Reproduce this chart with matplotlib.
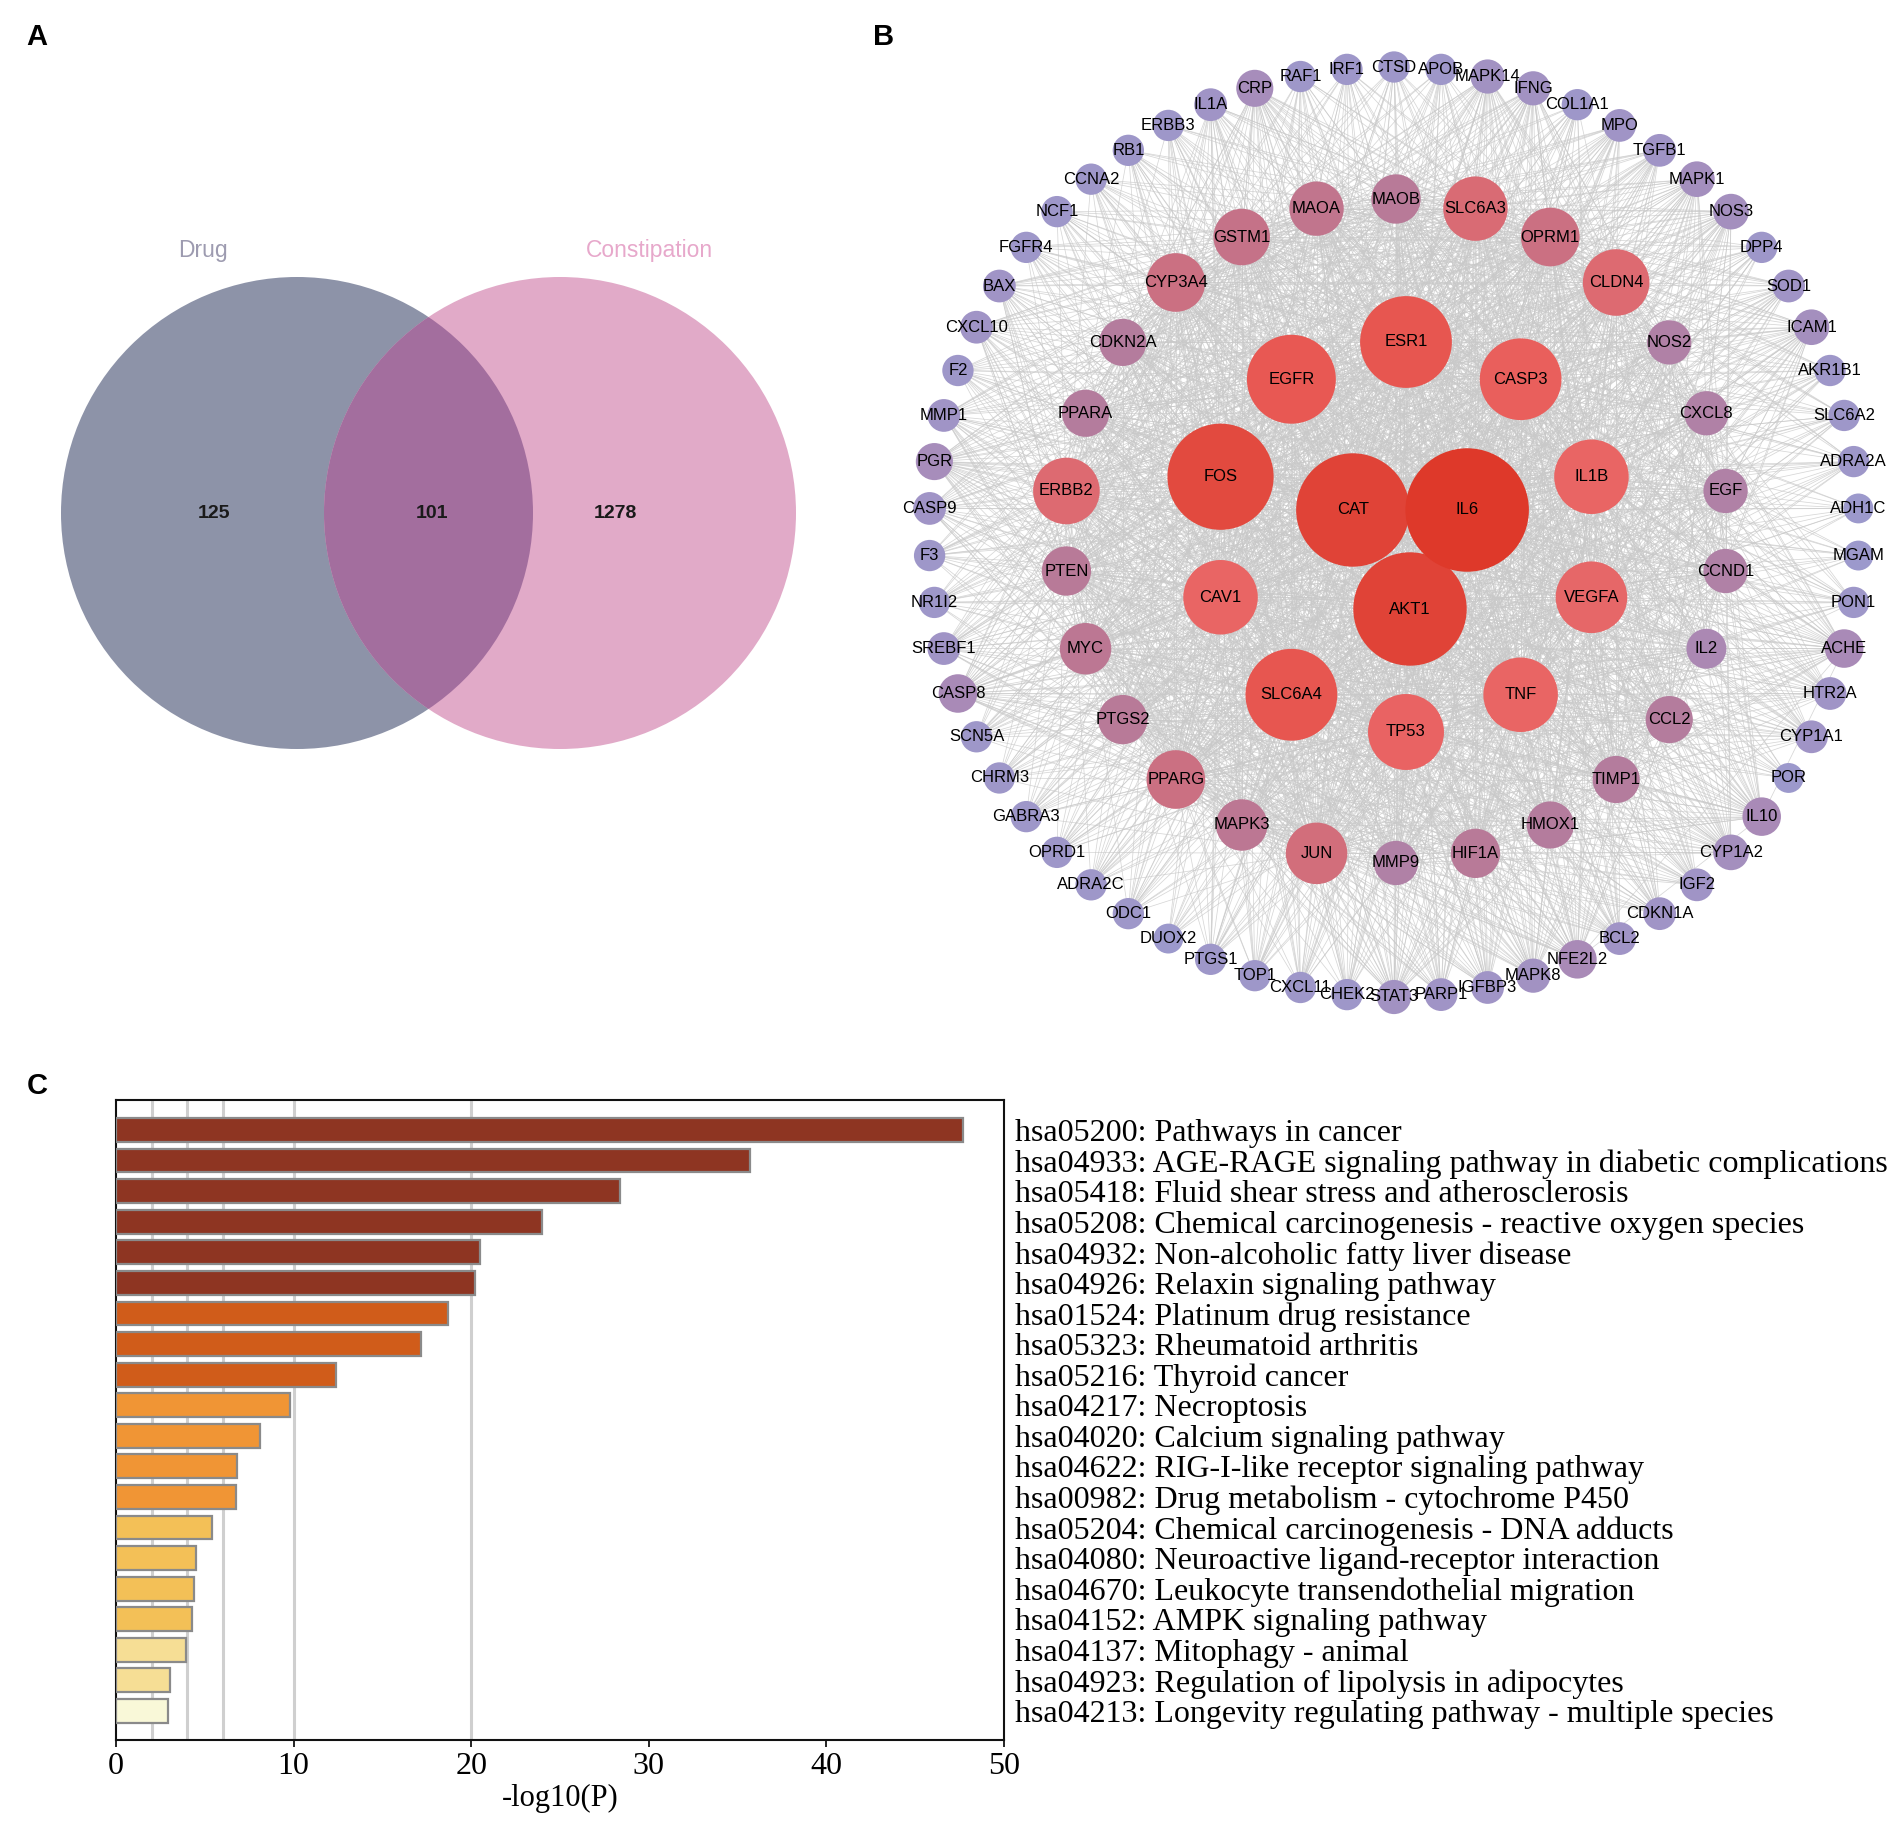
import numpy as np
import matplotlib
matplotlib.use("Agg")
import matplotlib.pyplot as plt
from matplotlib.patches import Circle
from matplotlib.collections import LineCollection
from matplotlib.colors import LinearSegmentedColormap
from matplotlib import font_manager

# ---------------- DATA ----------------
# Panel A: Venn
venn_sets = ["Drug", "Constipation"]
venn_counts = [125, 101, 1278]   # drug only, shared, constipation only

# Panel B: PPI network (rings, clockwise from layout start), estimated degree
core_genes = ["IL6", "AKT1", "CAT"]
core_deg = [67, 60, 60]

inner_genes = ["ESR1", "CASP3", "IL1B", "VEGFA", "TNF", "TP53", "SLC6A4", "CAV1", "FOS", "EGFR"]
inner_deg = [45, 38, 33, 31, 33, 34, 45, 33, 55, 43]

middle_genes = ["MAOB", "SLC6A3", "OPRM1", "CLDN4", "NOS2", "CXCL8", "EGF", "CCND1", "IL2",
                "CCL2", "TIMP1", "HMOX1", "HIF1A", "MMP9", "JUN", "MAPK3", "PPARG", "PTGS2",
                "MYC", "PTEN", "ERBB2", "PPARA", "CDKN2A", "CYP3A4", "GSTM1", "MAOA"]
middle_deg = [15.5, 26, 22, 27.5, 12, 12, 12, 12, 9, 14, 14, 14, 15.5, 12, 24, 17, 22, 15.5,
              17, 15.5, 27.5, 14, 14, 22, 20.5, 19]

outer_genes = ["CTSD", "APOB", "MAPK14", "IFNG", "COL1A1", "MPO", "TGFB1", "MAPK1", "NOS3",
               "DPP4", "SOD1", "ICAM1", "AKR1B1", "SLC6A2", "ADRA2A", "ADH1C", "MGAM", "PON1",
               "ACHE", "HTR2A", "CYP1A1", "POR", "IL10", "CYP1A2", "IGF2", "CDKN1A", "BCL2",
               "NFE2L2", "MAPK8", "IGFBP3", "PARP1", "STAT3", "CHEK2", "CXCL11", "TOP1", "PTGS1",
               "DUOX2", "ODC1", "ADRA2C", "OPRD1", "GABRA3", "CHRM3", "SCN5A", "CASP8", "SREBF1",
               "NR1I2", "F3", "CASP9", "PGR", "MMP1", "F2", "CXCL10", "BAX", "FGFR4", "NCF1",
               "CCNA2", "RB1", "ERBB3", "IL1A", "CRP", "RAF1", "IRF1"]
outer_deg = [3, 3, 5, 5, 3, 4, 4, 6, 6, 3, 4, 6, 3, 3, 3, 2, 2, 3, 8, 4, 4, 2, 8, 6, 4, 4, 4,
             8, 5, 4, 4, 5, 3, 3, 3, 3, 2, 3, 3, 3, 3, 3, 3, 8, 4, 3, 3, 4, 7, 4, 3, 4, 4, 3, 3,
             3, 3, 3, 4, 7, 3, 3]

# Panel C: KEGG enrichment
kegg_terms = ["hsa05200: Pathways in cancer",
              "hsa04933: AGE-RAGE signaling pathway in diabetic complications",
              "hsa05418: Fluid shear stress and atherosclerosis",
              "hsa05208: Chemical carcinogenesis - reactive oxygen species",
              "hsa04932: Non-alcoholic fatty liver disease",
              "hsa04926: Relaxin signaling pathway",
              "hsa01524: Platinum drug resistance",
              "hsa05323: Rheumatoid arthritis",
              "hsa05216: Thyroid cancer",
              "hsa04217: Necroptosis",
              "hsa04020: Calcium signaling pathway",
              "hsa04622: RIG-I-like receptor signaling pathway",
              "hsa00982: Drug metabolism - cytochrome P450",
              "hsa05204: Chemical carcinogenesis - DNA adducts",
              "hsa04080: Neuroactive ligand-receptor interaction",
              "hsa04670: Leukocyte transendothelial migration",
              "hsa04152: AMPK signaling pathway",
              "hsa04137: Mitophagy - animal",
              "hsa04923: Regulation of lipolysis in adipocytes",
              "hsa04213: Longevity regulating pathway - multiple species"]
kegg_logp = [47.7, 35.7, 28.4, 24.0, 20.5, 20.2, 18.7, 17.2, 12.4, 9.8, 8.1, 6.8, 6.75,
             5.4, 4.5, 4.4, 4.3, 3.95, 3.05, 2.9]
grid_lines = [2, 4, 6, 10, 20]
color_bins = [3, 4, 6, 10, 20]
x_ticks = [0, 10, 20, 30, 40, 50]

# ---------------- STYLE ----------------
W, H = 1904, 1829
fig = plt.figure(figsize=(W / 100, H / 100), dpi=100)
fig.patch.set_facecolor("white")

names = {f.name for f in font_manager.fontManager.ttflist}
sans = "Liberation Sans" if "Liberation Sans" in names else "DejaVu Sans"
narrow = "Liberation Sans Narrow" if "Liberation Sans Narrow" in names else sans
serif = "Liberation Serif" if "Liberation Serif" in names else "DejaVu Serif"
label_size = 13 if narrow != sans else 12


def px_axes(x0, y0, x1, y1):
    return fig.add_axes([x0 / W, 1 - y1 / H, (x1 - x0) / W, (y1 - y0) / H])


# panel letters
for letter, (lx, ly) in zip("ABC", [(37, 37), (884, 37), (37, 1086)]):
    fig.text(lx / W, 1 - ly / H, letter, fontsize=21, fontweight="bold",
             family=sans, ha="center", va="center")

# ---------------- Panel A: Venn ----------------
axA = px_axes(0, 40, 880, 1030)
axA.set_xlim(0, 880)
axA.set_ylim(1030, 40)
axA.axis("off")
cL, cR, rV = (297, 513), (560, 513), 236
left = Circle(cL, rV, facecolor="#8D93A8", edgecolor="none", zorder=1)
right = Circle(cR, rV, facecolor="#E1AAC8", edgecolor="none", zorder=1)
axA.add_patch(left)
axA.add_patch(right)
overlap = Circle(cL, rV, facecolor="#A36E9E", edgecolor="none", zorder=2)
axA.add_patch(overlap)
clipc = Circle(cR, rV, transform=axA.transData, facecolor="none", edgecolor="none")
axA.add_patch(clipc)
overlap.set_clip_path(clipc)
axA.text(203, 250, venn_sets[0], color="#9D9BB0", fontsize=16.5, family=sans,
         ha="center", va="center")
axA.text(649, 250, venn_sets[1], color="#E7A8CB", fontsize=16.5, family=sans,
         ha="center", va="center")
for xx, cnt in zip([214, 432, 615], venn_counts):
    axA.text(xx, 513, str(cnt), fontsize=14, fontweight="bold", family=sans,
             color="#1a1a1a", ha="center", va="center", zorder=5)

# ---------------- Panel B: Network ----------------
axB = px_axes(880, 30, 1904, 1030)
axB.set_xlim(880, 1904)
axB.set_ylim(1030, 30)
axB.axis("off")

cmap = LinearSegmentedColormap.from_list("deg", [
    (0.0, "#9C99CC"), (6 / 66, "#A98AB7"), (12 / 66, "#B47C9D"), (18 / 66, "#C47389"),
    (24 / 66, "#D96B74"), (30 / 66, "#E96666"), (42 / 66, "#E85752"), (53 / 66, "#E24A3F"),
    (1.0, "#DE3829")])

rings = [
    (outer_genes, outer_deg, (1394, 532), 465, 90),
    (middle_genes, middle_deg, (1396, 531), 332, 90),
    (inner_genes, inner_deg, (1406, 537), 195, 90),
    (core_genes, core_deg, (1410, 543), 66, 30),
]
nodes = []
for genes, degs, (cx, cy), rr, start in rings:
    n = len(genes)
    for k, (g, d) in enumerate(zip(genes, degs)):
        ang = np.deg2rad(start - 360.0 * k / n)
        nodes.append((g, d, cx + rr * np.cos(ang), cy - rr * np.sin(ang)))

# edges: hub-weighted connections
segs = []
for i in range(len(nodes)):
    for j in range(i + 1, len(nodes)):
        if nodes[i][1] * nodes[j][1] >= 60:
            segs.append([(nodes[i][2], nodes[i][3]), (nodes[j][2], nodes[j][3])])
axB.add_collection(LineCollection(segs, colors="#C9C9C9", linewidths=0.55, alpha=0.75, zorder=1))

for g, d, x, y in sorted(nodes, key=lambda t: t[1]):
    rad = 13.5 + 0.72 * d
    axB.add_patch(Circle((x, y), rad, facecolor=cmap((d - 2) / 66), edgecolor="none", zorder=2))
for g, d, x, y in nodes:
    axB.text(x, y, g, fontsize=label_size, family=narrow, color="#000000",
             ha="center", va="center", zorder=3)

# ---------------- Panel C: bar chart ----------------
axC = px_axes(116, 1100, 1004, 1740)
bin_colors = ["#F9F8D8", "#F6DE95", "#F3C057", "#F09535", "#D05C1A", "#8E3522"]
bar_cols = [bin_colors[int(np.searchsorted(color_bins, v, side="right"))] for v in kegg_logp]
y = np.arange(len(kegg_terms))
axC.barh(y, kegg_logp, height=0.78, color=bar_cols, edgecolor="#8A8A8A", linewidth=1.6, zorder=3)
for g in grid_lines:
    axC.axvline(g, color="#CFCFCF", linewidth=2.2, zorder=1)
axC.set_xlim(0, 50)
axC.set_ylim(19.95, -0.98)
axC.set_xticks(x_ticks)
axC.set_xticklabels([str(t) for t in x_ticks], family=serif, fontsize=23)
axC.tick_params(axis="x", length=5, width=1.2, pad=4)
axC.yaxis.tick_right()
axC.set_yticks(y)
axC.set_yticklabels(kegg_terms, family=serif, fontsize=23)
axC.tick_params(axis="y", length=0, pad=8)
axC.set_xlabel("-log10(P)", family=serif, fontsize=22, labelpad=2)
for s in axC.spines.values():
    s.set_linewidth(1.5)
    s.set_color("#111111")

fig.savefig("out.png", dpi=100, facecolor="white")
